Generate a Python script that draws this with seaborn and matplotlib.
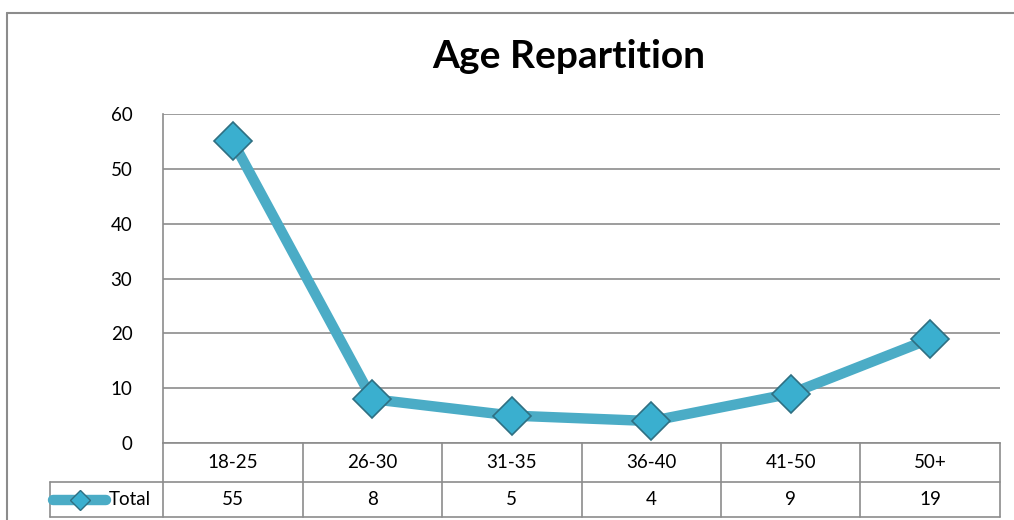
import matplotlib
matplotlib.use("Agg")
import matplotlib.pyplot as plt
import matplotlib.lines as mlines
import seaborn as sns
import pandas as pd

# data
age_groups = ["18-25", "26-30", "31-35", "36-40", "41-50", "50+"]
totals = [55, 8, 5, 4, 9, 19]
series_name = "Total"

df = pd.DataFrame({"age": age_groups, "total": totals})

sns.set_style("white")
plt.rcParams["font.family"] = ["Lato", "DejaVu Sans"]
plt.rcParams["text.color"] = "black"
plt.rcParams["ytick.color"] = "black"

line_color = "#4BACC6"
grid_color = "#8C8C8C"

fig = plt.figure(figsize=(10.14, 5.2), dpi=100)
ax = fig.add_axes([163 / 1014, 1 - 443 / 520, (1000 - 163) / 1014, (443 - 114) / 520])

sns.lineplot(data=df, x="age", y="total", ax=ax, color=line_color, linewidth=7.5,
             marker="D", markersize=19, markerfacecolor="#3AAFCF",
             markeredgecolor="#2F6F82", markeredgewidth=1.2, sort=False, zorder=3)

ax.set_xlim(-0.5, len(age_groups) - 0.5)
ax.set_ylim(0, 60)
ax.set_yticks(range(0, 61, 10))
ax.yaxis.grid(True, color=grid_color, linewidth=1.2)
ax.set_xticks([])
ax.set_xlabel("")
ax.set_ylabel("")
ax.tick_params(axis="y", labelsize=13.5, length=0, pad=22)
for s in ["top", "right"]:
    ax.spines[s].set_visible(False)
ax.spines["left"].set_color(grid_color)
ax.spines["bottom"].set_color(grid_color)
ax.spines["left"].set_linewidth(1.2)
ax.spines["bottom"].set_linewidth(1.2)

fig.text(569 / 1014, 1 - 57 / 520, "Age Repartition", ha="center", va="center",
         fontsize=28, fontweight="bold")

# data table below the plot
row1 = -39 / 329
row2 = -74 / 329
tr = ax.get_xaxis_transform()
legend_left = -0.135
kw = dict(color=grid_color, linewidth=1.2, clip_on=False, transform=ax.transAxes)
ax.add_line(mlines.Line2D([legend_left, 1], [row1, row1], **kw))
ax.add_line(mlines.Line2D([legend_left, 1], [row2, row2], **kw))
ax.add_line(mlines.Line2D([legend_left, legend_left], [row1, row2], **kw))
for i in range(len(age_groups) + 1):
    ax.add_line(mlines.Line2D([i - 0.5, i - 0.5], [0, row2], color=grid_color,
                              linewidth=1.2, clip_on=False, transform=tr))
for i, (g, v) in enumerate(zip(age_groups, totals)):
    ax.text(i, row1 / 2, g, transform=tr, ha="center", va="center", fontsize=13.5)
    ax.text(i, (row1 + row2) / 2, str(v), transform=tr, ha="center", va="center", fontsize=13.5)

# legend key in the table
ax.add_line(mlines.Line2D([-0.131, -0.068], [(row1 + row2) / 2] * 2, color=line_color,
                          linewidth=7.5, clip_on=False, transform=ax.transAxes,
                          solid_capstyle="round"))
ax.add_line(mlines.Line2D([-0.0995], [(row1 + row2) / 2], marker="D", markersize=10,
                          markerfacecolor="#3AAFCF", markeredgecolor="#2F6F82",
                          clip_on=False, transform=ax.transAxes))
ax.text(-0.065, (row1 + row2) / 2, series_name, transform=ax.transAxes,
        ha="left", va="center", fontsize=13.5)

# outer chart frame
fig.add_artist(mlines.Line2D([7 / 1014, 7 / 1014], [0, 1 - 13 / 520], color="#8C8C8C",
                             linewidth=1.5))
fig.add_artist(mlines.Line2D([7 / 1014, 1], [1 - 13 / 520, 1 - 13 / 520], color="#8C8C8C",
                             linewidth=1.5))

fig.savefig("out.png", dpi=100)
